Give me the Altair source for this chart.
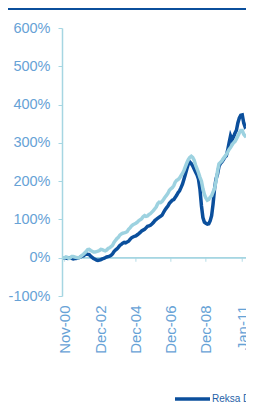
import altair as alt
import pandas as pd

# ---- data, monthly from Oct-2000 ----
start_month = "2000-10-01"
dark_name = "Reksa Dana Saham"
light_name = "IHSG"
dark_values = [0, 0, -1, -2, 0, 0, -2, -3, -2, -2, -1, 0, 2, 4, 5, 8, 10, 9, 8, 4, 1,
               -2, -4, -6, -7, -6, -5, -3, -2, 0, 2, 3, 4, 6, 10, 16, 20, 23, 27, 32,
               35, 38, 40, 39, 41, 43, 48, 52, 54, 56, 57, 60, 63, 66, 70, 72, 74, 78,
               82, 83, 85, 88, 92, 97, 100, 103, 106, 108, 111, 118, 125, 130, 135,
               142, 146, 150, 152, 157, 163, 170, 175, 183, 192, 205, 218, 232, 245,
               250, 246, 240, 232, 224, 216, 205, 178, 135, 105, 93, 90, 88, 89, 96,
               110, 140, 180, 205, 218, 238, 246, 250, 256, 262, 266, 280, 300, 318,
               308, 315, 325, 333, 352, 365, 372, 373, 352, 342, 345]
light_values = [0, 0, 2, 1, -2, 0, 3, 3, 2, 1, 0, 0, 3, 6, 9, 13, 17, 21, 22, 19, 17,
                15, 15, 16, 17, 19, 22, 21, 19, 18, 20, 24, 26, 29, 32, 40, 45, 50, 53,
                59, 62, 64, 65, 66, 68, 74, 78, 83, 86, 88, 90, 93, 97, 99, 102, 107,
                110, 108, 109, 113, 115, 119, 123, 128, 133, 141, 145, 144, 147, 152,
                158, 163, 168, 176, 180, 183, 188, 197, 202, 204, 208, 214, 220, 228,
                238, 248, 256, 262, 265, 262, 255, 242, 232, 222, 210, 200, 180, 165,
                156, 150, 152, 158, 162, 172, 180, 200, 225, 245, 249, 253, 259, 264,
                270, 276, 283, 288, 294, 300, 303, 310, 318, 326, 332, 332, 322, 318,
                320]
x_tick_labels = ["Nov-00", "Dec-02", "Dec-04", "Dec-06", "Dec-08", "Jan-11"]
y_ticks = [-100, 0, 100, 200, 300, 400, 500, 600]
legend_labels = [dark_name]

# ---- build tables ----
months = pd.date_range(start_month, periods=len(dark_values), freq="MS")
dates = months.strftime("%Y-%m-%d")
dark_df = pd.DataFrame({"date": dates, "value": dark_values})
light_df = pd.DataFrame({"date": dates, "value": light_values})
mon = {"Jan": 1, "Feb": 2, "Mar": 3, "Apr": 4, "May": 5, "Jun": 6, "Jul": 7,
       "Aug": 8, "Sep": 9, "Oct": 10, "Nov": 11, "Dec": 12}
tick_dates = [(2000 + int(l[4:]), mon[l[:3]]) for l in x_tick_labels]
ticks_df = pd.DataFrame({"date": [f"{y}-{m:02d}-01" for y, m in tick_dates]})
tick_dt = [alt.DateTime(year=y, month=m, date=1, utc=True) for y, m in tick_dates]
legend_df = pd.DataFrame({"label": legend_labels})

DARK = "#0b4f9c"
LIGHT = "#9dd2e0"
AXIS = "#a6d6e2"
LABEL = "#67a2d6"

W, H = 184, 268

xscale = alt.Scale(type="utc",
                   domain=[alt.DateTime(year=2000, month=9, date=10, utc=True),
                           alt.DateTime(year=2011, month=3, date=20, utc=True)])
yscale = alt.Scale(domain=[-100, 600], nice=False)

xaxis = alt.Axis(title=None, values=tick_dt,
                 labelExpr="utcFormat(datum.value, '%b-%y')")
yaxis = alt.Axis(title=None, values=y_ticks, labelExpr="datum.value + '%'")

X = alt.X("date:T", scale=xscale, axis=xaxis)
Y = alt.Y("value:Q", scale=yscale, axis=yaxis)

dark_line = alt.Chart(dark_df).mark_line(color=DARK, strokeWidth=3.5, clip=True).encode(x=X, y=Y)
light_line = alt.Chart(light_df).mark_line(color=LIGHT, strokeWidth=3.5, clip=True).encode(x=X, y=Y)

zero = alt.Chart(ticks_df).mark_rule(color=AXIS, strokeWidth=1.2).encode(
    y=alt.YDatum(0, scale=yscale, axis=yaxis))
xticks = alt.Chart(ticks_df).mark_tick(orient="vertical", size=4, thickness=1.2,
                                       yOffset=2, color=AXIS).encode(
    x=X, y=alt.YDatum(0, scale=yscale, axis=yaxis))
topbar = alt.Chart(legend_df).mark_rule(color=DARK, strokeWidth=2).encode(
    x=alt.value(-60), x2=alt.value(W + 10), y=alt.value(-19))

leg_line = alt.Chart(legend_df).mark_rule(color=DARK, strokeWidth=3.5).encode(
    x=alt.value(113), x2=alt.value(148), y=alt.value(371))
leg_text = alt.Chart(legend_df).mark_text(align="left", baseline="middle", fontSize=10,
                                          font="Liberation Sans", color="#1f5fa8").encode(
    x=alt.value(150), y=alt.value(371), text="label:N")

chart = alt.layer(zero, xticks, dark_line, light_line, topbar, leg_line, leg_text).properties(
    width=W, height=H,
    autosize=alt.AutoSizeParams(type="none"),
    padding={"left": 54, "top": 20, "right": 0, "bottom": 106},
    background="white",
).configure_view(strokeWidth=0).configure_axisX(
    labelAngle=-90, domain=False, ticks=False, grid=False, labelPadding=9,
    labelFontSize=15, labelColor=LABEL, labelFont="Liberation Sans",
    labelOverlap=False, labelFlush=False, labelBound=False,
).configure_axisY(
    grid=False, domainColor=AXIS, tickColor=AXIS, tickSize=4, domainWidth=1.5,
    labelPadding=8, labelFontSize=14.5, labelColor=LABEL, labelFont="Liberation Sans",
    labelOverlap=False, labelFlush=False, labelBound=False,
)

chart.save("out.html", embed_options={"renderer": "svg", "actions": False})
